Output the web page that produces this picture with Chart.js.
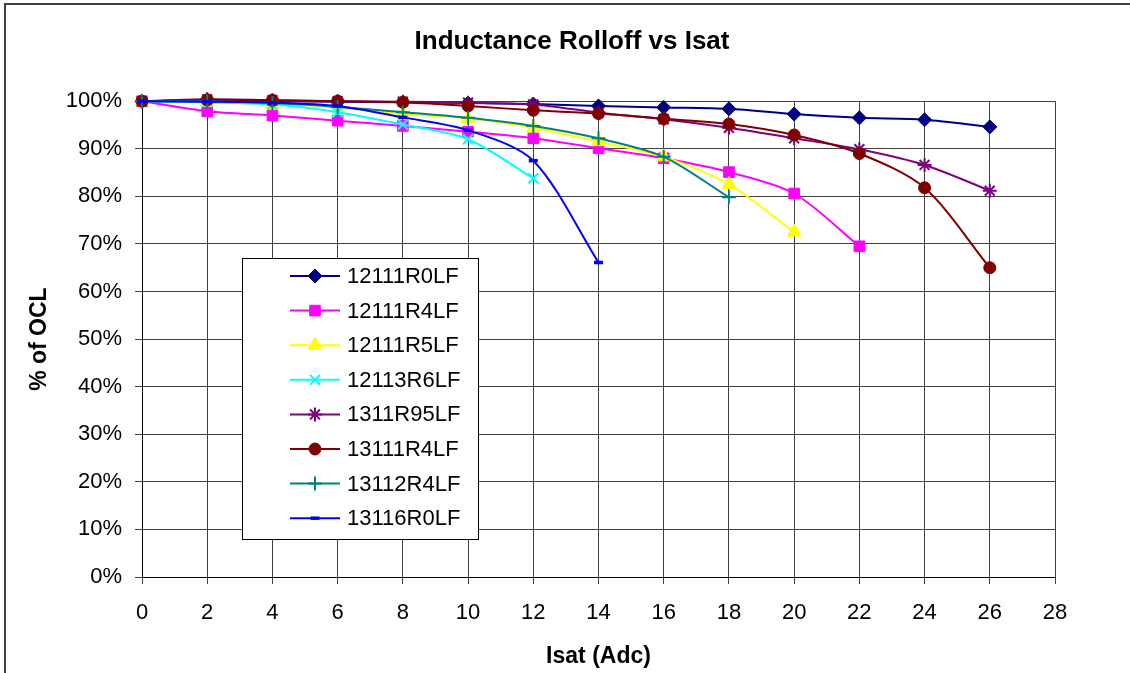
<!DOCTYPE html>
<html>
<head>
<meta charset="utf-8">
<script src="https://cdn.jsdelivr.net/npm/chart.js@4.4.1/dist/chart.umd.min.js"></script>
<style>
    html, body { margin: 0; padding: 0; background: #fff; }
    #wrap { width: 1130px; height: 673px; }
</style>
</head>
<body>
<div id="wrap"><canvas id="chart" width="1130" height="673"></canvas></div>
<script>
const FONT = '"Liberation Sans", Arial, sans-serif';

// Isat (Adc) sample points
const isat = [0, 2, 4, 6, 8, 10, 12, 14, 16, 18, 20, 22, 24, 26];

const seriesNames = ['12111R0LF', '12111R4LF', '12111R5LF', '12113R6LF', '1311R95LF', '13111R4LF', '13112R4LF', '13116R0LF'];

// % of OCL per part
const r12111R0LF = [100, 100, 100, 99.9, 99.8, 99.6, 99.4, 99.0, 98.7, 98.4, 97.3, 96.5, 96.1, 94.6];
const r12111R4LF = [100, 97.9, 97.0, 95.9, 94.8, 93.6, 92.2, 90.1, 88.0, 85.1, 80.6, 69.5];
const r12111R5LF = [100, 99.8, 99.3, 98.6, 97.3, 96.4, 94.4, 91.5, 88.3, 82.5, 72.5];
const r12113R6LF = [100, 99.8, 99.3, 97.7, 95.1, 92.0, 83.8];
const r1311R95LF = [100, 100.4, 100.2, 100.0, 99.9, 99.7, 99.3, 97.6, 96.2, 94.4, 92.2, 89.9, 86.6, 81.2];
const r13111R4LF = [100, 100.3, 100.2, 100.0, 99.8, 99.0, 98.1, 97.4, 96.3, 95.2, 92.9, 89.0, 81.8, 65.0];
const r13112R4LF = [100, 100, 99.6, 98.8, 97.7, 96.5, 94.8, 92.2, 88.3, 79.8];
const r13116R0LF = [100, 99.9, 99.7, 99.0, 96.6, 93.9, 87.5, 66.1];

const seriesValues = [r12111R0LF, r12111R4LF, r12111R5LF, r12113R6LF, r1311R95LF, r13111R4LF, r13112R4LF, r13116R0LF];

const yTicks = [0, 10, 20, 30, 40, 50, 60, 70, 80, 90, 100];
const xTicks = [0, 2, 4, 6, 8, 10, 12, 14, 16, 18, 20, 22, 24, 26, 28];

const styles = [
    { color: '#000080', pointStyle: 'rectRot', radius: 7, bw: 1 },
    { color: '#FF00FF', pointStyle: 'rect', radius: 7.5, bw: 1 },
    { color: '#FFFF00', pointStyle: 'triangle', radius: 8, bw: 1 },
    { color: '#00FFFF', pointStyle: 'crossRot', radius: 7, bw: 2 },
    { color: '#800080', pointStyle: 'star', radius: 7, bw: 2 },
    { color: '#800000', pointStyle: 'circle', radius: 6, bw: 1 },
    { color: '#008080', pointStyle: 'cross', radius: 7, bw: 2 },
    { color: '#0000FF', pointStyle: 'line', radius: 4.5, bw: 3.5 }
];

const datasets = seriesNames.map((name, i) => ({
    label: name,
    data: seriesValues[i].map((v, j) => ({ x: isat[j], y: v })),
    borderColor: styles[i].color,
    backgroundColor: styles[i].color,
    borderWidth: 2,
    tension: 0.3,
    pointStyle: styles[i].pointStyle,
    pointRadius: styles[i].radius,
    pointBorderWidth: styles[i].bw,
    pointBackgroundColor: styles[i].color,
    pointBorderColor: styles[i].color,
    clip: false,
    order: seriesNames.length - i
}));

// outer frame + white background
const framePlugin = {
    id: 'frame',
    beforeDraw(chart) {
        const ctx = chart.ctx;
        ctx.save();
        ctx.fillStyle = '#fff';
        ctx.fillRect(0, 0, chart.width, chart.height);
        ctx.strokeStyle = '#404040';
        ctx.lineWidth = 2;
        ctx.beginPath();
        ctx.moveTo(5, chart.height);
        ctx.lineTo(5, 4);
        ctx.lineTo(chart.width, 4);
        ctx.stroke();
        ctx.restore();
    }
};

// legend box inside the plot, like the original
const legendBoxPlugin = {
    id: 'legendBox',
    afterDraw(chart) {
        const ctx = chart.ctx;
        const bx = 242.5, by = 258.5, bw = 236, bh = 281;
        ctx.save();
        ctx.fillStyle = '#fff';
        ctx.fillRect(bx, by, bw, bh);
        ctx.strokeStyle = '#000';
        ctx.lineWidth = 1;
        ctx.strokeRect(bx, by, bw, bh);
        ctx.font = '22px ' + FONT;
        ctx.textAlign = 'left';
        ctx.textBaseline = 'middle';
        seriesNames.forEach((name, i) => {
            const y = 276 + i * 34.6;
            const st = styles[i];
            ctx.strokeStyle = st.color;
            ctx.fillStyle = st.color;
            ctx.lineWidth = 2;
            ctx.beginPath();
            ctx.moveTo(290, y);
            ctx.lineTo(340, y);
            ctx.stroke();
            if (Chart.helpers && Chart.helpers.drawPoint) {
                ctx.lineWidth = st.bw;
                Chart.helpers.drawPoint(ctx, { pointStyle: st.pointStyle, radius: st.radius, borderWidth: st.bw, rotation: 0 }, 315, y);
            }
            ctx.fillStyle = '#000';
            ctx.fillText(name, 347, y + 1);
        });
        ctx.restore();
    }
};

new Chart(document.getElementById('chart').getContext('2d'), {
    type: 'line',
    data: { datasets: datasets },
    plugins: [framePlugin, legendBoxPlugin],
    options: {
        responsive: false,
        animation: false,
        events: [],
        layout: { padding: { left: 14, right: 0, top: 0, bottom: 3 } },
        plugins: {
            legend: { display: false },
            tooltip: { enabled: false },
            title: {
                display: true,
                text: 'Inductance Rolloff vs Isat',
                color: '#000',
                font: { family: FONT, size: 26, weight: 'bold' },
                padding: { top: 26, bottom: 44 }
            }
        },
        scales: {
            x: {
                type: 'linear',
                min: 0,
                max: 28,
                afterBuildTicks(scale) {
                    scale.ticks = xTicks.map(v => ({ value: v }));
                },
                afterFit(scale) { scale.height = 93; },
                ticks: {
                    color: '#000',
                    font: { family: FONT, size: 22 },
                    padding: 16,
                    maxRotation: 0
                },
                grid: { color: '#404040', lineWidth: 1, tickLength: 7 },
                border: { color: '#000', width: 1 },
                title: {
                    display: true,
                    text: 'Isat (Adc)',
                    color: '#000',
                    font: { family: FONT, size: 23, weight: 'bold' },
                    padding: { top: 0, bottom: 0 }
                }
            },
            y: {
                min: 0,
                max: 100,
                afterBuildTicks(scale) {
                    scale.ticks = yTicks.map(v => ({ value: v }));
                },
                afterFit(scale) { scale.width = 128; },
                ticks: {
                    color: '#000',
                    font: { family: FONT, size: 22 },
                    padding: 13,
                    callback: v => v + '%'
                },
                grid: { color: '#404040', lineWidth: 1, tickLength: 7 },
                border: { color: '#000', width: 1 },
                title: {
                    display: true,
                    text: '% of OCL',
                    color: '#000',
                    font: { family: FONT, size: 23, weight: 'bold' },
                    padding: { top: 12, bottom: 0 }
                }
            },
            yRight: {
                position: 'right',
                min: 0,
                max: 100,
                grid: { display: false },
                border: { display: false },
                ticks: { display: false },
                afterFit(scale) { scale.width = 75; }
            }
        }
    }
});
</script>
</body>
</html>
